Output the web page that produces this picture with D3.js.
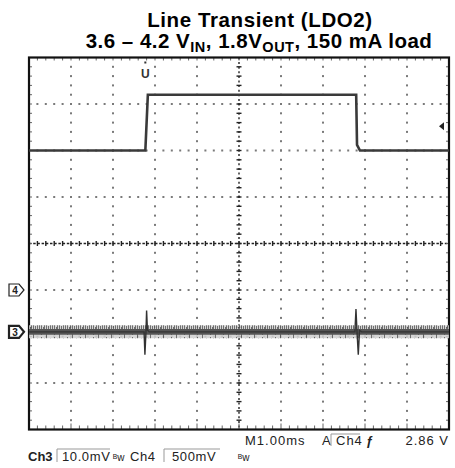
<!DOCTYPE html>
<html>
<head>
<meta charset="utf-8">
<script src="https://cdn.jsdelivr.net/npm/d3@7"></script>
<style>
body { margin: 0; background: #fff; }
</style>
</head>
<body>
<script>
// time in ms across the screen (1.00 ms/div, 10 div)
var ch4Time = [0, 2.77, 2.83, 7.79, 7.81, 7.88, 10];
// Ch4 = input voltage (V)
var ch4Volts = [3.6, 3.6, 4.2, 4.2, 3.66, 3.6, 3.6];

var ch3Time = [0, 2.74, 2.76, 2.785, 2.80, 2.82, 2.86, 7.76, 7.785, 7.81, 7.84, 7.87, 7.92, 10];
// Ch3 = output deviation from 1.8 V (mV, AC)
var ch3mV = [0, 0, -4.9, 0, 4.6, 0.4, 0, 0, 4.9, 0, -4.9, 0.3, 0, 0];
var ch3Noise = [1.4, 0.6]; // outer / inner noise band, mV

var ch4Ref = 2.1, ch3Ref = 0;     // channel markers on left
var trigTime = 2.77, trigLevel = 3.86;

var title1 = "Line Transient (LDO2)";
var statusLine1 = ["M1.00ms", "A", "Ch4", "ƒ", "2.86 V"];
var statusLine2 = ["Ch3", "10.0mV", "ᴮw", "Ch4", "500mV", "ᴮw"];

var W = 455, H = 468;
var pL = 29, pR = 449, pT = 57.5, pB = 429.5;

var svg = d3.select("body")
    .append("svg")
    .attr("width", W)
    .attr("height", H)
    .style("font-family", "'Liberation Sans', Arial, sans-serif");

var x = d3.scaleLinear().domain([0, 10]).range([pL, pR]);
var yDiv = d3.scaleLinear().domain([-4, 4]).range([pB, pT]);
var yCh4 = d3.scaleLinear().domain([0.6, 4.6]).range([pB, pT]);   // 500 mV/div
var yCh3 = d3.scaleLinear().domain([-21, 59]).range([pB, pT]);    // 10 mV/div

// title
svg.append("text")
    .attr("x", 260).attr("y", 27)
    .attr("text-anchor", "middle")
    .attr("font-weight", "bold")
    .attr("font-size", 20.5)
    .attr("letter-spacing", 0.6)
    .text(title1);

var t2 = svg.append("text")
    .attr("x", 259).attr("y", 48)
    .attr("text-anchor", "middle")
    .attr("font-weight", "bold")
    .attr("font-size", 20.5)
    .attr("letter-spacing", 0.5);
t2.append("tspan").text("3.6 \u2013 4.2 V");
t2.append("tspan").attr("font-size", 14.5).attr("dy", 4).text("IN");
t2.append("tspan").attr("dy", -4).text(", 1.8V");
t2.append("tspan").attr("font-size", 14.5).attr("dy", 4).text("OUT");
t2.append("tspan").attr("dy", -4).text(", 150 mA load");

// grid dots
var minorX = d3.range(1, 50).map(function(i) { return i / 5; });
var minorY = d3.range(-19, 20).map(function(i) { return i / 5; });
var grid = svg.append("g").attr("fill", "#7a7a7a");

[1, 2, 3, 4, 6, 7, 8, 9].forEach(function(t) {
    grid.selectAll(null)
        .data(minorY)
        .enter()
        .append("rect")
        .attr("x", x(t) - 1)
        .attr("y", function(d) { return yDiv(d) - 1; })
        .attr("width", 2).attr("height", 2);
});
[-3, -2, -1, 1, 2, 3].forEach(function(v) {
    grid.selectAll(null)
        .data(minorX)
        .enter()
        .append("rect")
        .attr("x", function(d) { return x(d) - 1; })
        .attr("y", yDiv(v) - 1)
        .attr("width", 2).attr("height", 2);
});

// center axes with minor ticks
var axes = svg.append("g").attr("stroke", "#222").attr("stroke-width", 1.4);
axes.append("line")
    .attr("x1", x(5)).attr("x2", x(5))
    .attr("y1", pT).attr("y2", pB)
    .attr("stroke-dasharray", "2,2.6");
axes.append("line")
    .attr("x1", pL).attr("x2", pR)
    .attr("y1", yDiv(0)).attr("y2", yDiv(0))
    .attr("stroke-dasharray", "2.5,1.7");
axes.selectAll(null)
    .data(minorY)
    .enter()
    .append("line")
    .attr("x1", x(5) - 2.5).attr("x2", x(5) + 2.5)
    .attr("y1", function(d) { return yDiv(d); })
    .attr("y2", function(d) { return yDiv(d); });
axes.selectAll(null)
    .data(minorX)
    .enter()
    .append("line")
    .attr("y1", yDiv(0) - 2.5).attr("y2", yDiv(0) + 2.5)
    .attr("x1", function(d) { return x(d); })
    .attr("x2", function(d) { return x(d); });

// edge ticks
var edge = svg.append("g").attr("stroke", "#666").attr("stroke-width", 1);
edge.selectAll(null).data(minorX).enter().append("line")
    .attr("x1", function(d) { return x(d); }).attr("x2", function(d) { return x(d); })
    .attr("y1", pT).attr("y2", pT + 3);
edge.selectAll(null).data(minorX).enter().append("line")
    .attr("x1", function(d) { return x(d); }).attr("x2", function(d) { return x(d); })
    .attr("y1", pB).attr("y2", function(d, i) { return pB - (i % 5 === 4 ? 6 : 4); });
edge.selectAll(null).data(minorY).enter().append("line")
    .attr("y1", function(d) { return yDiv(d); }).attr("y2", function(d) { return yDiv(d); })
    .attr("x1", pL).attr("x2", pL + 3);
edge.selectAll(null).data(minorY).enter().append("line")
    .attr("y1", function(d) { return yDiv(d); }).attr("y2", function(d) { return yDiv(d); })
    .attr("x1", pR).attr("x2", pR - 3);

// frame
svg.append("rect")
    .attr("x", pL).attr("y", pT)
    .attr("width", pR - pL).attr("height", pB - pT)
    .attr("fill", "none")
    .attr("stroke", "#111")
    .attr("stroke-width", 2.2);

// Ch3 noise band (texture only)
var hatch = svg.append("defs").append("pattern")
    .attr("id", "noise")
    .attr("patternUnits", "userSpaceOnUse")
    .attr("width", 13).attr("height", 14);
hatch.append("rect").attr("width", 13).attr("height", 14).attr("fill", "#cfcfcf");
[[0, 3, 8], [2, 1, 12], [4, 5, 6], [5, 2, 9], [7, 0, 14], [9, 4, 7], [11, 2, 10]].forEach(function(h) {
    hatch.append("rect")
        .attr("x", h[0]).attr("y", h[1])
        .attr("width", 1).attr("height", h[2])
        .attr("fill", "#555");
});

var band = d3.area()
    .x(function(d) { return x(d); })
    .y0(yCh3(ch3Ref - ch3Noise[0]))
    .y1(yCh3(ch3Ref + ch3Noise[0]));
svg.append("path")
    .datum([0, 10])
    .attr("d", band)
    .attr("fill", "url(#noise)")
    .attr("opacity", 0.85);
var core = d3.area()
    .x(function(d) { return x(d); })
    .y0(yCh3(ch3Ref - ch3Noise[1]))
    .y1(yCh3(ch3Ref + ch3Noise[1]));
svg.append("path")
    .datum([0, 10])
    .attr("d", core)
    .attr("fill", "#555");

var line3 = d3.line()
    .x(function(d) { return x(d[0]); })
    .y(function(d) { return yCh3(d[1]); });
svg.append("path")
    .datum(d3.zip(ch3Time, ch3mV))
    .attr("d", line3)
    .attr("fill", "none")
    .attr("stroke", "#333")
    .attr("stroke-width", 1.4);

// Ch4 trace
var line4 = d3.line()
    .x(function(d) { return x(d[0]); })
    .y(function(d) { return yCh4(d[1]); });
svg.append("path")
    .datum(d3.zip(ch4Time, ch4Volts))
    .attr("d", line4)
    .attr("fill", "none")
    .attr("stroke", "#3a3a3a")
    .attr("stroke-width", 2.6);

// trigger position marker (top)
svg.append("rect")
    .attr("x", x(trigTime) - 1).attr("y", pT + 4)
    .attr("width", 2).attr("height", 2).attr("fill", "#333");
svg.append("text")
    .attr("x", x(trigTime)).attr("y", pT + 20)
    .attr("text-anchor", "middle")
    .attr("font-size", 12).attr("font-weight", "bold")
    .attr("fill", "#333")
    .text("U");

// trigger level marker (right)
var ty = yCh4(trigLevel);
svg.append("path")
    .attr("d", "M" + (pR - 10) + "," + ty + "l5,-4v8z")
    .attr("fill", "#222");

// channel markers (left)
function chMarker(y, label, w) {
    svg.append("path")
        .attr("d", "M9," + (y - 6) + "h10l5,6l-5,6h-10z")
        .attr("fill", "#fff")
        .attr("stroke", "#222")
        .attr("stroke-width", w);
    svg.append("text")
        .attr("x", 15).attr("y", y + 4)
        .attr("text-anchor", "middle")
        .attr("font-size", 10).attr("font-weight", "bold")
        .attr("fill", "#222")
        .text(label);
}
chMarker(yCh4(ch4Ref), "4", 1.2);
chMarker(yCh3(ch3Ref), "3", 2.2);

// status text
var st = svg.append("g")
    .attr("font-size", 13)
    .attr("fill", "#222")
    .attr("letter-spacing", 1);
st.append("text").attr("x", 245).attr("y", 445).text(statusLine1[0]);
st.append("text").attr("x", 322).attr("y", 445).text(statusLine1[1]);
st.append("text").attr("x", 336).attr("y", 445).text(statusLine1[2]);
st.append("text").attr("x", 366).attr("y", 445).attr("font-weight", "bold").text(statusLine1[3]);
st.append("text").attr("x", 449).attr("y", 445).attr("text-anchor", "end").text(statusLine1[4]);

st.append("text").attr("x", 28).attr("y", 461).attr("font-weight", "bold").attr("letter-spacing", 0).text(statusLine2[0]);
st.append("text").attr("x", 62).attr("y", 461).attr("letter-spacing", 0.6).text(statusLine2[1]);
st.append("text").attr("x", 113).attr("y", 461).attr("font-size", 10).attr("letter-spacing", 0).text(statusLine2[2]);
st.append("text").attr("x", 130).attr("y", 461).attr("letter-spacing", 0.6).text(statusLine2[3]);
st.append("text").attr("x", 172).attr("y", 461).attr("letter-spacing", 0.6).text(statusLine2[4]);
st.append("text").attr("x", 238).attr("y", 461).attr("font-size", 10).attr("letter-spacing", 0).text(statusLine2[5]);

var boxes = svg.append("g").attr("fill", "none").attr("stroke", "#999").attr("stroke-width", 1);
boxes.append("path").attr("d", "M57,462V449H110");
boxes.append("path").attr("d", "M164,462V449H220");
boxes.append("path").attr("d", "M331,446V434H360");
</script>
</body>
</html>
